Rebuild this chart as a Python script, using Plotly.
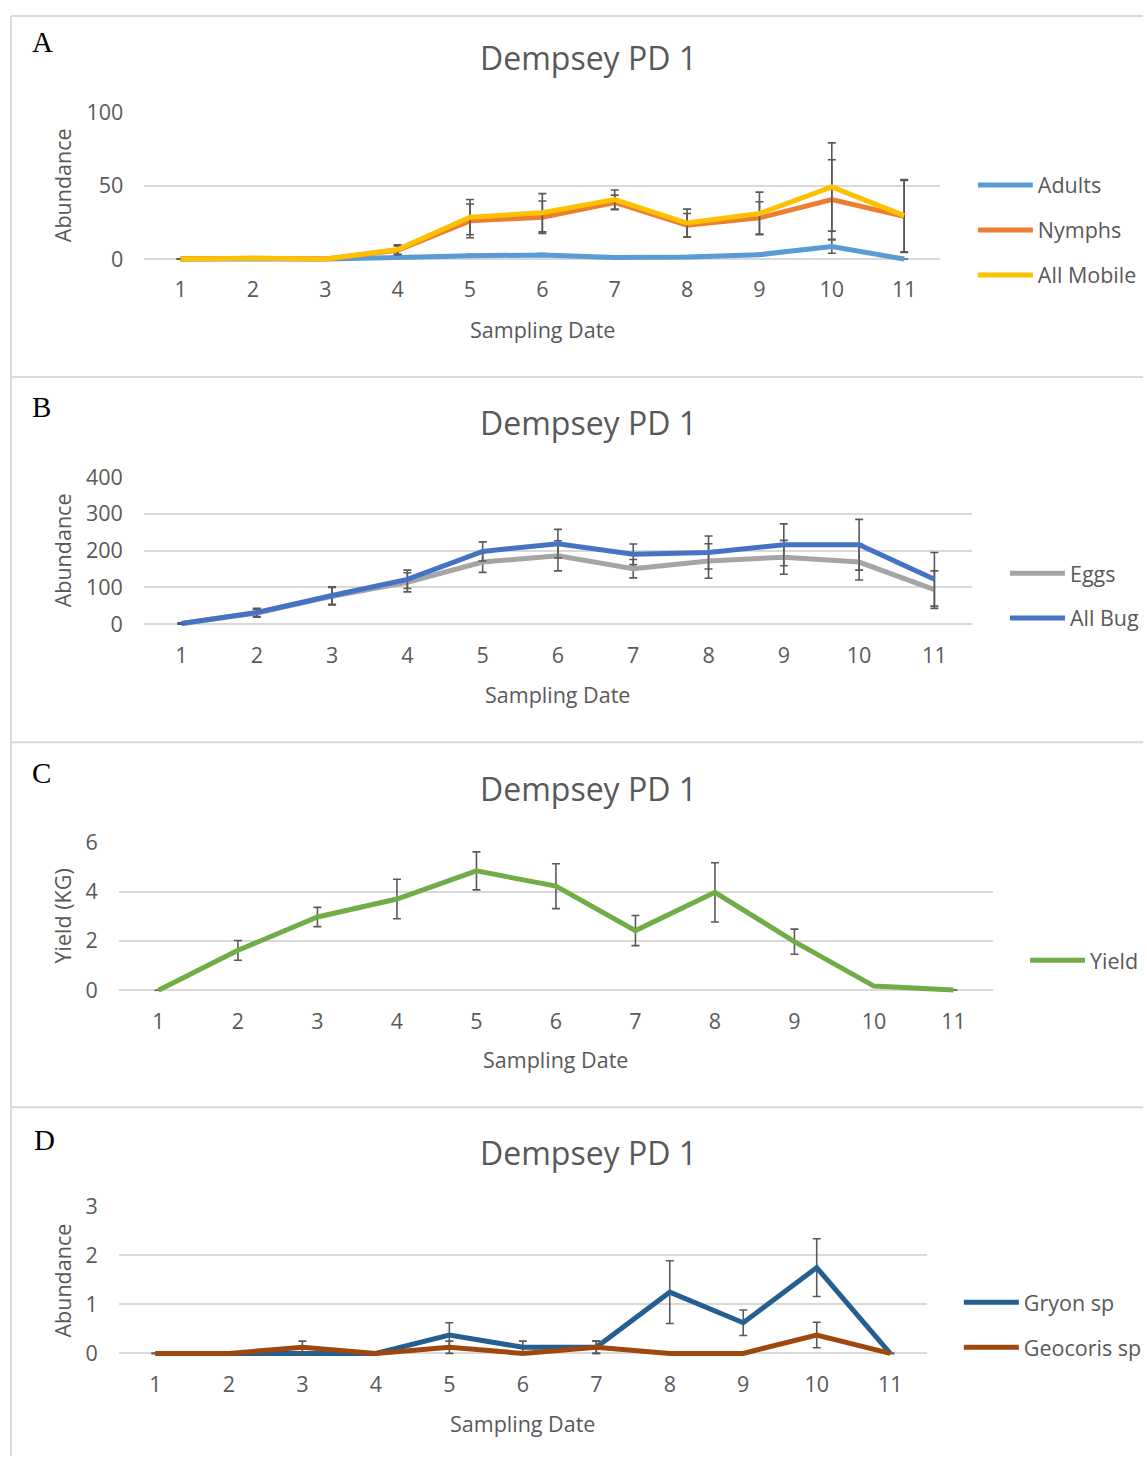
import plotly.graph_objects as go

W, H = 1147, 1464

# ---------------- data ----------------
sampling_dates = [1, 2, 3, 4, 5, 6, 7, 8, 9, 10, 11]
tick_labels = [str(d) for d in sampling_dates]

# Panel A
adults = [0, 0, 0, 1.0, 2.3, 2.7, 1.1, 1.4, 3.0, 8.5, 0]
adults_err = [0, 0, 0, 0.5, 1.0, 1.0, 0.5, 0.5, 1.0, 4.5, 0]
nymphs = [0, 0.5, 0, 6.0, 26, 28.5, 38.5, 23, 28, 40.5, 29]
nymphs_err = [0, 0.5, 0, 3.0, 11.5, 11, 5, 8, 11, 27, 24.5]
all_mobile = [0, 0.5, 0, 6.5, 28.5, 31.5, 40.5, 24.5, 31, 49, 29.5]
all_mobile_err = [0, 0.5, 0, 3.2, 12, 13, 6.5, 9.5, 14.5, 30, 24.5]

# Panel B
eggs = [2, 30, 76, 114, 169, 186, 151, 172, 182, 169, 94]
eggs_err = [2, 11, 24, 26, 28, 41, 25, 47, 46, 49, 51]
all_bug = [2, 32, 78, 122, 198, 219, 190, 195, 216, 216, 122]
all_bug_err = [2, 11, 24, 25, 26, 39, 28, 45, 57, 69, 73]

# Panel C
yield_kg = [0, 1.62, 2.97, 3.70, 4.84, 4.22, 2.42, 3.97, 1.97, 0.17, 0.01]
yield_err = [0, 0.40, 0.39, 0.80, 0.77, 0.91, 0.61, 1.20, 0.51, 0, 0]

# Panel D
gryon = [0, 0, 0, 0, 0.375, 0.125, 0.125, 1.25, 0.625, 1.75, 0]
gryon_err = [0, 0, 0, 0, 0.25, 0.125, 0.125, 0.64, 0.26, 0.59, 0]
geocoris = [0, 0, 0.125, 0, 0.125, 0, 0.125, 0, 0, 0.375, 0]
geocoris_err = [0, 0, 0.125, 0, 0.125, 0, 0.125, 0, 0, 0.26, 0]

# ---------------- styling ----------------
TXT = "#595959"
GRID = "#D9D9D9"
ERR = "#595959"
FONT = "Open Sans"
FS = 21.5

def vx(p):
    # horizontal placement correction
    return p / 0.994

def px_x(p):
    return min(1.0, vx(p) / W)

def vy(p):
    # vertical placement correction
    return max(1.0, (p - 15) / 0.984)

def px_y(p):
    return 1 - vy(p) / H

panels = [
    dict(left=144, right=938, y0=259, ytop=112, ymax=100, dtick=50),
    dict(left=143.5, right=969.6, y0=624, ytop=477, ymax=400, dtick=100),
    dict(left=118.4, right=990.7, y0=990, ytop=842, ymax=6, dtick=2),
    dict(left=118.4, right=924.6, y0=1353, ytop=1206, ymax=3, dtick=1),
]
PAD = 6  # px below zero line so lines at 0 are not clipped

fig = go.Figure()

def add_series(idx, name, y, err, color, legend):
    sfx = "" if idx == 0 else str(idx + 1)
    fig.add_trace(go.Scatter(
        x=sampling_dates, y=y, name=name, mode="lines",
        line=dict(color=color, width=5),
        error_y=dict(type="data", array=err, visible=True, color=ERR,
                     thickness=1.6, width=4),
        xaxis="x" + sfx, yaxis="y" + sfx,
        legend=legend, legendgroup=name,
    ))

add_series(0, "Adults", adults, adults_err, "#5B9BD5", "legend")
add_series(0, "Nymphs", nymphs, nymphs_err, "#ED7D31", "legend")
add_series(0, "All Mobile", all_mobile, all_mobile_err, "#FFC000", "legend")
add_series(1, "Eggs", eggs, eggs_err, "#A5A5A5", "legend2")
add_series(1, "All Bug", all_bug, all_bug_err, "#4472C4", "legend2")
add_series(2, "Yield", yield_kg, yield_err, "#70AD47", "legend3")
add_series(3, "Gryon sp", gryon, gryon_err, "#255E91", "legend4")
add_series(3, "Geocoris sp", geocoris, geocoris_err, "#9E480E", "legend4")

layout = dict(
    width=W, height=H, autosize=False,
    margin=dict(l=0, r=0, t=0, b=0),
    paper_bgcolor="white", plot_bgcolor="white",
    font=dict(family=FONT, size=FS, color=TXT),
    showlegend=True,
)

for i, p in enumerate(panels):
    sfx = "" if i == 0 else str(i + 1)
    y0p, ytp = vy(p["y0"]), vy(p["ytop"])
    upp = p["ymax"] / (y0p - ytp)
    ylo = -PAD * upp
    layout["xaxis" + sfx] = dict(
        domain=[px_x(p["left"]), px_x(p["right"])],
        range=[0.5, 11.5], tickvals=sampling_dates, ticktext=tick_labels,
        showgrid=False, zeroline=False, showline=False, ticks="",
        ticklabelstandoff=10, anchor="y" + sfx,
        tickfont=dict(family=FONT, size=FS, color=TXT), fixedrange=True,
    )
    layout["yaxis" + sfx] = dict(
        domain=[1 - (y0p + PAD) / H, 1 - ytp / H],
        range=[ylo, p["ymax"]],
        tickvals=[k * p["dtick"] for k in range(int(round(p["ymax"] / p["dtick"])) + 1)],
        showgrid=True, gridcolor=GRID, gridwidth=1.5,
        zeroline=False, showline=False, ticks="",
        ticklabelstandoff=20, anchor="x" + sfx,
        tickfont=dict(family=FONT, size=FS, color=TXT), fixedrange=True,
    )

legend_common = dict(
    bgcolor="rgba(0,0,0,0)", font=dict(family=FONT, size=FS, color=TXT),
    tracegroupgap=14, xanchor="left", yanchor="middle", itemwidth=55,
    traceorder="grouped",
)
LEG_TEXT_OFFSET = 67  # px from legend box left to item text
def legend_x(text_start):
    return (vx(text_start) - LEG_TEXT_OFFSET) / W

layout["legend"] = dict(legend_common, x=legend_x(1037), y=px_y(230))
layout["legend2"] = dict(legend_common, x=legend_x(1069), y=px_y(595.5))
layout["legend3"] = dict(legend_common, x=legend_x(1089), y=px_y(960))
layout["legend4"] = dict(legend_common, x=legend_x(1023), y=px_y(1324.5))

fig.update_layout(**layout)

# panel borders
shapes = []
for yb in [13, 377, 742, 1107]:
    shapes.append(dict(type="line", xref="paper", yref="paper",
                       x0=px_x(11), x1=1, y0=px_y(yb), y1=px_y(yb),
                       line=dict(color=GRID, width=2)))
shapes.append(dict(type="line", xref="paper", yref="paper",
                   x0=px_x(11), x1=px_x(11), y0=px_y(13), y1=0,
                   line=dict(color=GRID, width=2)))
fig.update_layout(shapes=shapes)

annotations = []
letters = [("A", 42, 42), ("B", 41, 407), ("C", 41, 773), ("D", 44, 1140)]
for t, xx, yy in letters:
    annotations.append(dict(text=t, x=px_x(xx), y=px_y(yy), xref="paper", yref="paper",
                            showarrow=False, xanchor="center", yanchor="middle",
                            font=dict(family="Liberation Serif", size=29, color="black")))
title_y = [57, 422, 788, 1152]
for yy in title_y:
    annotations.append(dict(text="Dempsey PD 1", x=px_x(587), y=px_y(yy), xref="paper", yref="paper",
                            showarrow=False, xanchor="center", yanchor="middle",
                            font=dict(family=FONT, size=32, color=TXT)))
xt = [(541, 329), (556, 694), (554, 1059), (521, 1423)]
for xx, yy in xt:
    annotations.append(dict(text="Sampling Date", x=px_x(xx), y=px_y(yy), xref="paper", yref="paper",
                            showarrow=False, xanchor="center", yanchor="middle",
                            font=dict(family=FONT, size=FS, color=TXT)))
yt = [("Abundance", 185), ("Abundance", 550), ("Yield (KG)", 916), ("Abundance", 1280)]
for t, yy in yt:
    annotations.append(dict(text=t, x=px_x(62), y=px_y(yy), xref="paper", yref="paper",
                            showarrow=False, xanchor="center", yanchor="middle", textangle=-90,
                            font=dict(family=FONT, size=FS, color=TXT)))
fig.update_layout(annotations=annotations)

fig.write_html("out.html")
